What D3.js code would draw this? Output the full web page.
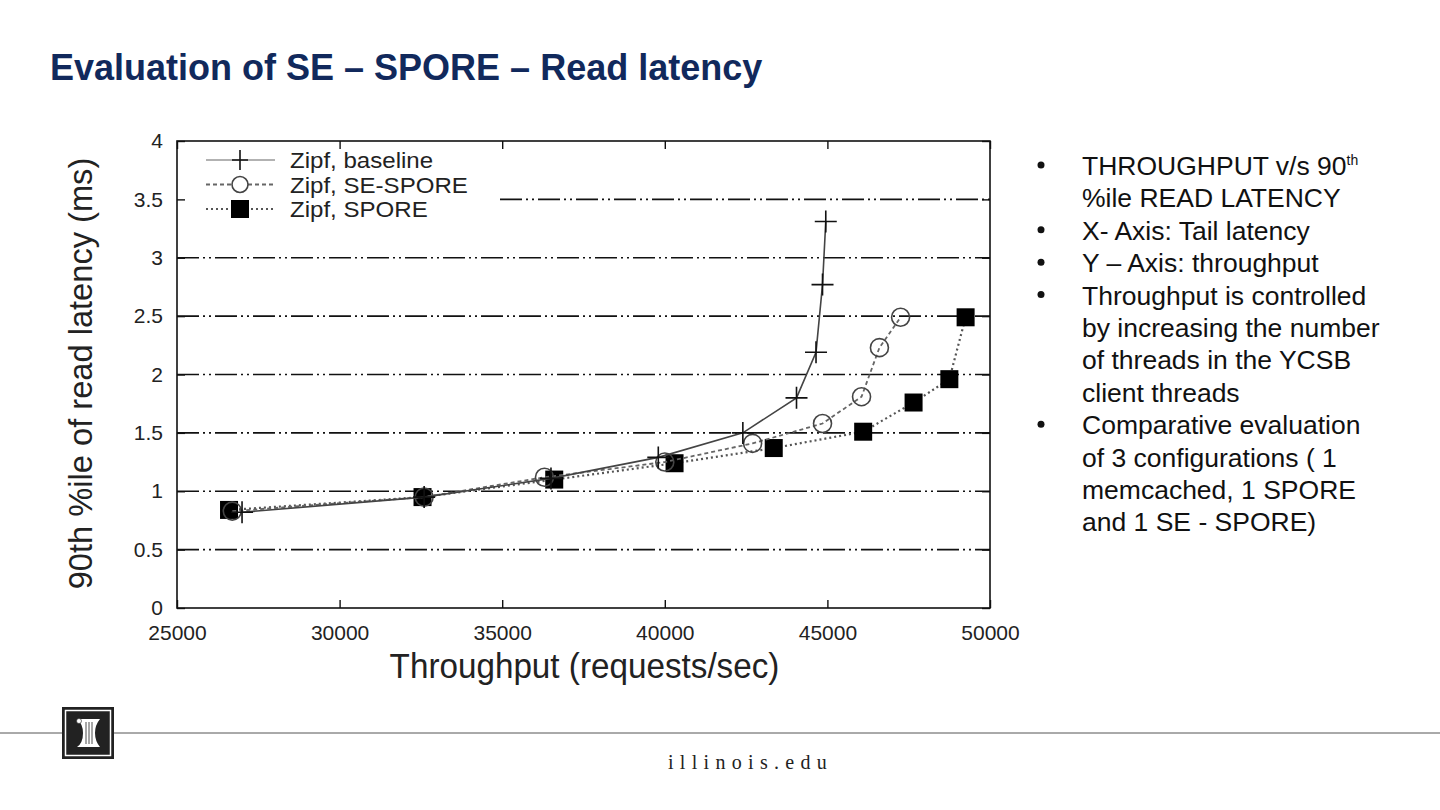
<!DOCTYPE html>
<html>
<head>
<meta charset="utf-8">
<script src="https://cdn.jsdelivr.net/npm/d3@7/dist/d3.min.js"></script>
<style>
  html, body { margin: 0; padding: 0; background: #fff; }
  svg { display: block; }
</style>
</head>
<body>
<div id="slide"></div>
<script>
// ━━━━━━━━━━━━━━━━━━━━━━━━━━━━━━━━━━━━━━━━━━━━━━━━━━━━━━━━━━━━━━━━━━━━━━━━━━━━━━
// Data /////////////////////////////////////////////////////////////////////////
// ━━━━━━━━━━━━━━━━━━━━━━━━━━━━━━━━━━━━━━━━━━━━━━━━━━━━━━━━━━━━━━━━━━━━━━━━━━━━━━

const baseline = [
  [27000, 0.82], [32600, 0.95], [36500, 1.11], [39800, 1.29], [42400, 1.50],
  [44050, 1.80], [44650, 2.19], [44850, 2.77], [44950, 3.31]
];
const se_spore = [
  [26700, 0.83], [32600, 0.95], [36300, 1.12], [40000, 1.25], [42700, 1.41],
  [44850, 1.58], [46050, 1.81], [46600, 2.23], [47250, 2.49]
];
const spore = [
  [26600, 0.84], [32550, 0.95], [36600, 1.10], [40300, 1.24], [43350, 1.37],
  [46100, 1.51], [47650, 1.76], [48750, 1.96], [49250, 2.49]
];

const series_names = ['Zipf, baseline', 'Zipf, SE-SPORE', 'Zipf, SPORE'];
const x_ticks = [25000, 30000, 35000, 40000, 45000, 50000];
const y_ticks = [0, 0.5, 1, 1.5, 2, 2.5, 3, 3.5, 4];

const bullets = [
  ['THROUGHPUT v/s 90|th', '%ile READ LATENCY'],
  ['X- Axis: Tail latency'],
  ['Y \u2013 Axis: throughput'],
  ['Throughput is controlled', 'by increasing the number', 'of threads in the YCSB', 'client threads'],
  ['Comparative evaluation', 'of 3 configurations ( 1', 'memcached, 1 SPORE', 'and 1 SE - SPORE)']
];

// ━━━━━━━━━━━━━━━━━━━━━━━━━━━━━━━━━━━━━━━━━━━━━━━━━━━━━━━━━━━━━━━━━━━━━━━━━━━━━━
// SVG setup ////////////////////////////////////////////////////////////////////
// ━━━━━━━━━━━━━━━━━━━━━━━━━━━━━━━━━━━━━━━━━━━━━━━━━━━━━━━━━━━━━━━━━━━━━━━━━━━━━━

const width = 1440, height = 810;
const svg = d3.select('#slide').append('svg')
  .attr('viewBox', [0, 0, width, height])
  .attr('width', width)
  .attr('height', height);

const sans = "'Liberation Sans', Arial, sans-serif";

// title
svg.append('text')
  .attr('x', 50).attr('y', 80)
  .attr('font-family', sans)
  .attr('font-weight', 'bold')
  .attr('font-size', 36)
  .attr('fill', '#11295c')
  .text('Evaluation of SE \u2013 SPORE \u2013 Read latency');

// ━━━━━━━━━━━━━━━━━━━━━━━━━━━━━━━━━━━━━━━━━━━━━━━━━━━━━━━━━━━━━━━━━━━━━━━━━━━━━━
// Chart ////////////////////////////////////////////////////////////////////////
// ━━━━━━━━━━━━━━━━━━━━━━━━━━━━━━━━━━━━━━━━━━━━━━━━━━━━━━━━━━━━━━━━━━━━━━━━━━━━━━

const plot = { left: 177, right: 990, top: 141, bottom: 608 };

const x = d3.scaleLinear().domain([25000, 50000]).range([plot.left, plot.right]);
const y = d3.scaleLinear().domain([0, 4]).range([plot.bottom, plot.top]);

const chart = svg.append('g').attr('id', 'chart');

// horizontal grid, dash dot dot
chart.append('g').attr('id', 'grid')
  .selectAll('line')
  .data(y_ticks.filter(d => d > 0 && d < 4))
  .join('line')
  .attr('x1', d => d === 3.5 ? 500 : plot.left)
  .attr('x2', plot.right)
  .attr('y1', d => y(d)).attr('y2', d => y(d))
  .attr('stroke', '#111')
  .attr('stroke-width', 1.6)
  .attr('stroke-dasharray', '22,4,2,4,2,4');

// axes with mirrored inward ticks
const tickLen = 8;
const axes = chart.append('g').attr('id', 'axes');

axes.append('g')
  .attr('transform', `translate(0,${plot.bottom})`)
  .call(d3.axisBottom(x).tickValues(x_ticks).tickSize(-tickLen).tickPadding(tickLen + 9).tickFormat(d3.format('d')))
  .call(g => g.select('.domain').remove())
  .call(g => g.selectAll('text').attr('font-family', sans).attr('font-size', 21).attr('fill', '#222'));

axes.append('g')
  .attr('transform', `translate(0,${plot.top})`)
  .call(d3.axisTop(x).tickValues(x_ticks).tickSize(-tickLen).tickFormat(''))
  .call(g => g.select('.domain').remove());

axes.append('g')
  .attr('transform', `translate(${plot.left},0)`)
  .call(d3.axisLeft(y).tickValues(y_ticks).tickSize(-tickLen).tickPadding(tickLen + 6).tickFormat(d3.format('')))
  .call(g => g.select('.domain').remove())
  .call(g => g.selectAll('text').attr('font-family', sans).attr('font-size', 21).attr('fill', '#222'));

axes.append('g')
  .attr('transform', `translate(${plot.right},0)`)
  .call(d3.axisRight(y).tickValues(y_ticks).tickSize(-tickLen).tickFormat(''))
  .call(g => g.select('.domain').remove());

axes.selectAll('.tick line').attr('stroke', '#111').attr('stroke-width', 1.4);

// frame
chart.append('rect')
  .attr('x', plot.left).attr('y', plot.top)
  .attr('width', plot.right - plot.left).attr('height', plot.bottom - plot.top)
  .attr('fill', 'none')
  .attr('stroke', '#111')
  .attr('stroke-width', 1.6);

// axis titles
chart.append('text')
  .attr('transform', `translate(${x(37500) + 1},678) scale(0.95,1)`)
  .attr('text-anchor', 'middle')
  .attr('font-family', sans)
  .attr('font-size', 35)
  .attr('fill', '#222')
  .text('Throughput (requests/sec)');

chart.append('text')
  .attr('transform', `translate(92,${y(2) - 1}) rotate(-90) scale(0.96,1)`)
  .attr('text-anchor', 'middle')
  .attr('font-family', sans)
  .attr('font-size', 34)
  .attr('fill', '#222')
  .text('90th %ile of read latency (ms)');

// ━━━━━━━━━━━━━━━━━━━━━━━━━━━━━━━━━━━━━━━━━━━━━━━━━━━━━━━━━━━━━━━━━━━━━━━━━━━━━━
// Series ///////////////////////////////////////////////////////////////////////
// ━━━━━━━━━━━━━━━━━━━━━━━━━━━━━━━━━━━━━━━━━━━━━━━━━━━━━━━━━━━━━━━━━━━━━━━━━━━━━━

const line = d3.line().x(d => x(d[0])).y(d => y(d[1]));

const styles = [
  { data: baseline, stroke: '#444', width: 1.6, dash: null, marker: 'plus' },
  { data: se_spore, stroke: '#666', width: 1.8, dash: '4,3', marker: 'circle' },
  { data: spore, stroke: '#555', width: 2.2, dash: '2,3', marker: 'square' }
];

function drawMarker(g, type) {
  if (type === 'plus') {
    g.append('path').attr('d', 'M-11,0H11M0,-11V11').attr('stroke', '#111').attr('stroke-width', 1.6).attr('fill', 'none');
  } else if (type === 'circle') {
    g.append('circle').attr('r', 9).attr('fill', 'none').attr('stroke', '#444').attr('stroke-width', 1.6);
  } else {
    g.append('rect').attr('x', -9).attr('y', -9).attr('width', 18).attr('height', 18).attr('fill', '#000');
  }
}

const series = chart.append('g').attr('id', 'series');

// draw in reverse so baseline sits on top like the source
[...styles].reverse().forEach(s => {
  const g = series.append('g');
  g.append('path')
    .datum(s.data)
    .attr('d', line)
    .attr('fill', 'none')
    .attr('stroke', s.stroke)
    .attr('stroke-width', s.width)
    .attr('stroke-dasharray', s.dash);
  g.selectAll('g.pt')
    .data(s.data)
    .join('g')
    .attr('class', 'pt')
    .attr('transform', d => `translate(${x(d[0])},${y(d[1])})`)
    .each(function () { drawMarker(d3.select(this), s.marker); });
});

// legend
const legend = chart.append('g').attr('id', 'legend');
styles.forEach((s, i) => {
  const ly = 160 + i * 24.5;
  const row = legend.append('g').attr('transform', `translate(0,${ly})`);
  row.append('line')
    .attr('x1', 206).attr('x2', 275)
    .attr('stroke', i === 0 ? '#999' : s.stroke)
    .attr('stroke-width', s.width)
    .attr('stroke-dasharray', s.dash);
  const m = row.append('g').attr('transform', 'translate(240,0)');
  if (s.marker === 'plus') {
    m.append('path').attr('d', 'M-8,0H8M0,-10V10').attr('stroke', '#111').attr('stroke-width', 1.6);
  } else if (s.marker === 'circle') {
    m.append('circle').attr('r', 8).attr('fill', '#fff').attr('stroke', '#444').attr('stroke-width', 1.6);
  } else {
    m.append('rect').attr('x', -9).attr('y', -9).attr('width', 18).attr('height', 18).attr('fill', '#000');
  }
  row.append('text')
    .attr('transform', 'translate(290,8) scale(1.12,1)')
    .attr('font-family', sans)
    .attr('font-size', 21.5)
    .attr('fill', '#222')
    .text(series_names[i]);
});

// ━━━━━━━━━━━━━━━━━━━━━━━━━━━━━━━━━━━━━━━━━━━━━━━━━━━━━━━━━━━━━━━━━━━━━━━━━━━━━━
// Bullets //////////////////////////////////////////////////////////////////////
// ━━━━━━━━━━━━━━━━━━━━━━━━━━━━━━━━━━━━━━━━━━━━━━━━━━━━━━━━━━━━━━━━━━━━━━━━━━━━━━

const notes = svg.append('g').attr('id', 'notes')
  .attr('font-family', sans).attr('font-size', 26.5).attr('fill', '#111');

let lineNo = 0;
bullets.forEach(b => {
  notes.append('circle')
    .attr('cx', 1041).attr('cy', 165 + lineNo * 32.4)
    .attr('r', 3.5).attr('fill', '#111');
  b.forEach(txt => {
    const t = notes.append('text').attr('x', 1082).attr('y', 175 + lineNo * 32.4);
    const parts = txt.split('|');
    t.append('tspan').text(parts[0]);
    if (parts[1]) t.append('tspan').attr('font-size', 14).attr('dy', -10).text(parts[1]);
    lineNo++;
  });
});

// ━━━━━━━━━━━━━━━━━━━━━━━━━━━━━━━━━━━━━━━━━━━━━━━━━━━━━━━━━━━━━━━━━━━━━━━━━━━━━━
// Footer ///////////////////////////////////////////////////////////////////////
// ━━━━━━━━━━━━━━━━━━━━━━━━━━━━━━━━━━━━━━━━━━━━━━━━━━━━━━━━━━━━━━━━━━━━━━━━━━━━━━

const footer = svg.append('g').attr('id', 'footer');
footer.append('line')
  .attr('x1', 0).attr('x2', width).attr('y1', 733).attr('y2', 733)
  .attr('stroke', '#555').attr('stroke-width', 1);

const logo = footer.append('g').attr('transform', 'translate(62,707)');
logo.append('rect').attr('width', 52).attr('height', 52).attr('fill', '#222');
logo.append('rect').attr('x', 3.5).attr('y', 3.5).attr('width', 45).attr('height', 45)
  .attr('fill', 'none').attr('stroke', '#fff').attr('stroke-width', 1.5);
logo.append('path')
  .attr('d', 'M15,12 H38 Q33,18 33,26 Q33,34 38,40 H15 Q21,36 21,26 Q21,17 15,12 Z')
  .attr('fill', '#fff');
logo.append('path')
  .attr('d', 'M24,15 V37 M27,15 V37 M30,15 V37')
  .attr('stroke', '#222').attr('stroke-width', 0.8);
logo.append('circle').attr('cx', 17).attr('cy', 14).attr('r', 2.5).attr('fill', '#fff').attr('stroke', '#222').attr('stroke-width', 0.6);

footer.append('text')
  .attr('x', 668).attr('y', 769)
  .attr('font-family', "'Liberation Serif', 'DejaVu Serif', serif")
  .attr('font-size', 20)
  .attr('letter-spacing', 6.3)
  .attr('fill', '#222')
  .text('illinois.edu');
</script>
</body>
</html>
